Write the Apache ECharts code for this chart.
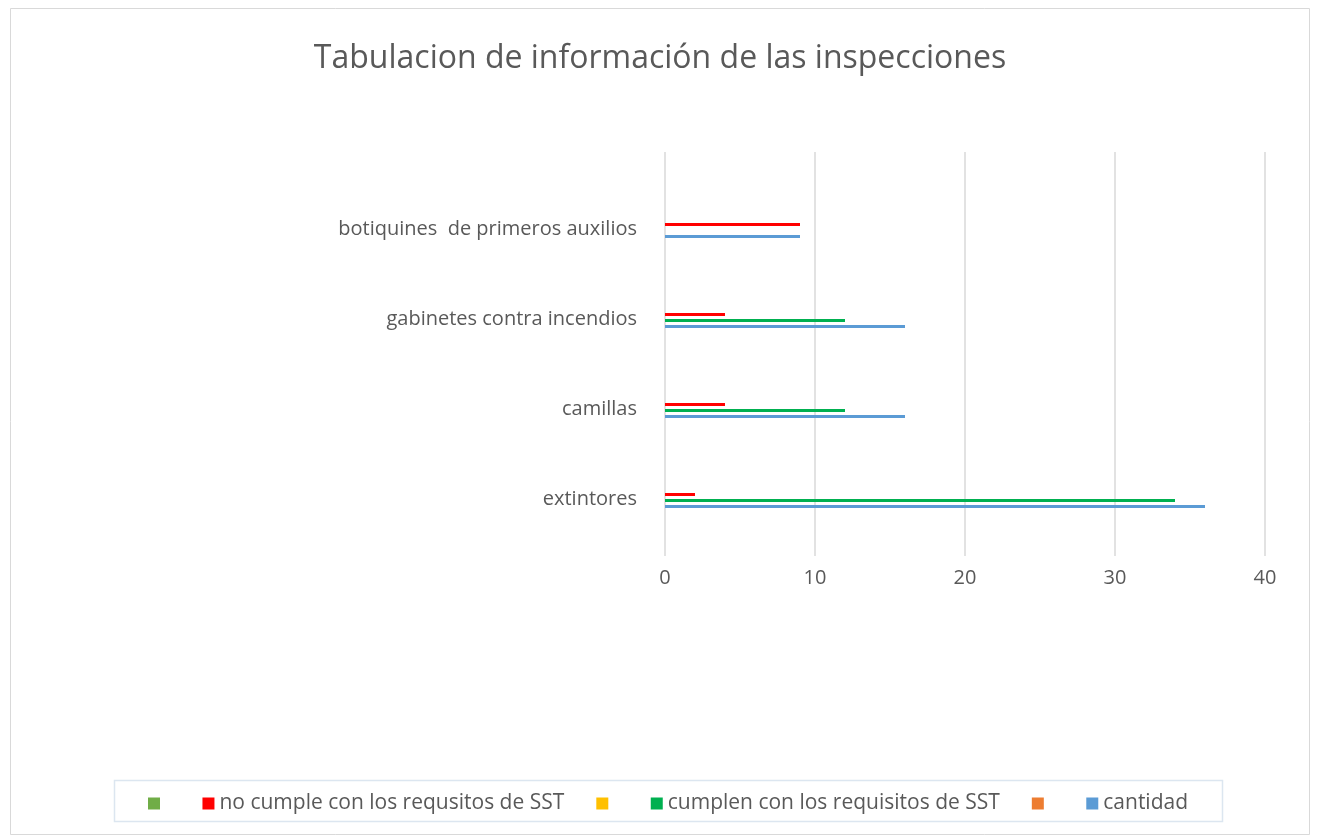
<!DOCTYPE html>
<html>
<head>
<meta charset="utf-8">
<script src="https://cdn.jsdelivr.net/npm/echarts@6/dist/echarts.min.js"></script>
<style>
  html, body { margin: 0; padding: 0; background: #fff; }
  #chart { width: 1320px; height: 836px; }
</style>
</head>
<body>
<div id="chart"></div>
<script>
const categories = ['extintores', 'camillas', 'gabinetes contra incendios', 'botiquines  de primeros auxilios'];
const cantidad = [36, 16, 16, 9];
const cumplen = [34, 12, 12, null];
const noCumple = [2, 4, 4, 9];
const vacio = [null, null, null, null];
const xTicks = [0, 10, 20, 30, 40];

// series sin datos: se muestran en la leyenda solo con su color
const blank1 = '_serie2';
const blank2 = '_serie4';
const blank3 = '_serie6';
const nomCantidad = 'cantidad';
const nomCumplen = 'cumplen con los requisitos de SST';
const nomNoCumple = 'no cumple con los requsitos de SST';

const font = 'Open Sans';
const gris = '#595959';
const chart = echarts.init(document.getElementById('chart'));

function bar(name, data, color) {
  return {
    name: name,
    type: 'bar',
    xAxisIndex: 1,
    yAxisIndex: 1,
    data: data,
    barWidth: 3,
    barGap: '0%',
    itemStyle: { color: color },
    animation: false
  };
}

const option = {
  backgroundColor: '#fff',
  title: {
    text: 'Tabulacion de información de las inspecciones',
    left: 'center',
    top: 38,
    textStyle: { fontFamily: font, fontSize: 32, fontWeight: 'normal', color: gris }
  },
  graphic: [
    { type: 'rect', shape: { x: 10.5, y: 8.5, width: 1299, height: 826 }, style: { fill: 'none', stroke: '#D9D9D9', lineWidth: 1 } },
    { type: 'rect', shape: { x: 114.5, y: 780.5, width: 1108, height: 41 }, style: { fill: 'none', stroke: '#DCE6F0', lineWidth: 1.5 } }
  ],
  legend: {
    data: [blank3, nomNoCumple, blank2, nomCumplen, blank1, nomCantidad],
    left: 143,
    top: 788,
    icon: 'rect',
    itemWidth: 12,
    itemHeight: 12,
    itemGap: 32,
    formatter: name => name.charAt(0) === '_' ? ' ' : name,
    textStyle: { fontFamily: font, fontSize: 21, color: gris }
  },
  grid: [
    { left: 665, right: 55, top: 152, bottom: 280 },
    { left: 665, right: 55, top: 184, bottom: 292 }
  ],
  xAxis: [
    {
      gridIndex: 0,
      type: 'value',
      min: 0,
      max: 40,
      interval: 10,
      axisLine: { show: false },
      axisTick: { show: false },
      splitLine: { lineStyle: { color: '#D9D9D9', width: 1.5 } },
      axisLabel: {
        fontFamily: font, fontSize: 20, color: gris, margin: 12,
        formatter: v => xTicks.includes(v) ? String(v) : ''
      }
    },
    {
      gridIndex: 1,
      type: 'value',
      min: 0,
      max: 40,
      show: false
    }
  ],
  yAxis: [
    { gridIndex: 0, type: 'value', show: false, splitLine: { show: false } },
    {
      gridIndex: 1,
      type: 'category',
      data: categories,
      axisLine: { show: false },
      axisTick: { show: false },
      axisLabel: { fontFamily: font, fontSize: 20, color: gris, margin: 28 }
    }
  ],
  series: [
    bar(blank3, vacio, '#70AD47'),
    bar(nomNoCumple, noCumple, '#FF0000'),
    bar(blank2, vacio, '#FFC000'),
    bar(nomCumplen, cumplen, '#00B050'),
    bar(blank1, vacio, '#ED7D31'),
    bar(nomCantidad, cantidad, '#5B9BD5')
  ]
};

chart.setOption(option);
</script>
</body>
</html>
